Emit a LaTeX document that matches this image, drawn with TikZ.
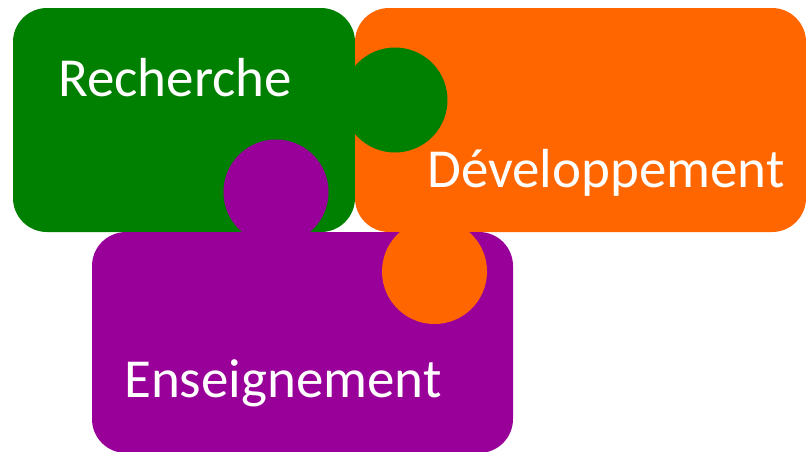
\documentclass[tikz,border=0pt]{standalone}
\usepackage{fontspec}
\setmainfont{Carlito}
\definecolor{rechgreen}{HTML}{008000}
\definecolor{devorange}{HTML}{FF6600}
\definecolor{enspurple}{HTML}{990099}
\begin{document}
\begin{tikzpicture}[x=1pt,y=-1pt]
	\tikzstyle{piece}=[rounded corners=34pt, inner sep=0pt, outer sep=0pt, anchor=north west]
	\tikzstyle{knob}=[circle, inner sep=0pt, outer sep=0pt, minimum size=105pt]
	\tikzstyle{word}=[text=white, inner sep=0pt, anchor=base west, font=\fontsize{55}{60}\selectfont]
	\useasboundingbox (0,0) rectangle (806,451);
	% the three pieces
	\node [piece, fill=rechgreen, minimum width=342pt, minimum height=224pt] (rech) at (13,8) {};
	\node [piece, fill=devorange, minimum width=451pt, minimum height=224pt] (dev) at (355,8) {};
	\node [piece, fill=enspurple, minimum width=421pt, minimum height=221pt] (ens) at (92,232) {};
	% the knobs
	\node [knob, fill=rechgreen] (rechknob) at (395,100) {};
	\node [knob, fill=enspurple] (ensknob) at (276,192) {};
	\node [knob, fill=devorange] (devknob) at (434.5,271.5) {};
	% labels
	\node [word] (rechtext) at (58,96) {Recherche};
	\node [word] (devtext) at (427,187) {Développement};
	\node [word] (enstext) at (124,397) {Enseignement};
\end{tikzpicture}
\end{document}
